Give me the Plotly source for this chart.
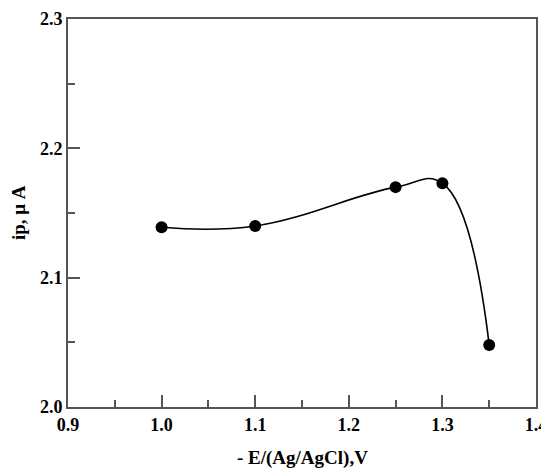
import plotly.graph_objects as go

potential = [1.0, 1.1, 1.25, 1.3, 1.35]
current = [2.139, 2.140, 2.170, 2.173, 2.048]

x_ticks = [0.9, 1.0, 1.1, 1.2, 1.3, 1.4]
x_ticklabels = ["0.9", "1.0", "1.1", "1.2", "1.3", "1.4"]
y_ticks = [2.0, 2.1, 2.2, 2.3]
y_ticklabels = ["2.0", "2.1", "2.2", "2.3"]

font_family = "Liberation Serif, Times New Roman, serif"
axis_color = "#555555"

fig = go.Figure()
fig.add_trace(go.Scatter(
    x=potential, y=current, mode="lines+markers",
    line=dict(color="black", width=1.6, shape="spline", smoothing=1.2),
    marker=dict(color="black", size=12),
    showlegend=False,
))

# page body has an 8px default margin, so the figure is sized to fit inside the window
fig.update_layout(
    width=541, height=461,
    margin=dict(l=60, r=13, t=11, b=62),
    paper_bgcolor="white", plot_bgcolor="white",
    font=dict(family=font_family, color="black"),
    xaxis=dict(
        range=[0.9, 1.4], tickmode="array", tickvals=x_ticks, ticktext=x_ticklabels,
        ticks="inside", ticklen=12, tickwidth=1.5, tickcolor=axis_color,
        showline=True, linecolor=axis_color, linewidth=2, mirror=True,
        showgrid=False, zeroline=False, automargin=False,
        tickfont=dict(size=18, weight="bold", family=font_family),
        minor=dict(ticks="inside", ticklen=7, tickwidth=1.5, tickcolor=axis_color, dtick=0.05, showgrid=False),
    ),
    yaxis=dict(
        range=[2.0, 2.3], tickmode="array", tickvals=y_ticks, ticktext=y_ticklabels,
        ticks="inside", ticklen=12, tickwidth=1.5, tickcolor=axis_color,
        showline=True, linecolor=axis_color, linewidth=2, mirror=True,
        showgrid=False, zeroline=False, automargin=False, ticklabelstandoff=0,
        tickfont=dict(size=18, weight="bold", family=font_family),
        minor=dict(ticks="inside", ticklen=7, tickwidth=1.5, tickcolor=axis_color, dtick=0.05, showgrid=False),
    ),
    annotations=[
        dict(text="- E/(Ag/AgCl),V", xref="paper", yref="paper", x=0.5, y=0,
             yshift=-51, showarrow=False, yanchor="middle",
             font=dict(size=19, weight="bold", family=font_family)),
        dict(text="ip, μ A", xref="paper", yref="paper", x=0, y=0.5,
             xshift=-50, showarrow=False, xanchor="center", textangle=-90,
             font=dict(size=19, weight="bold", family=font_family)),
    ],
)

fig.write_html("out.html")
